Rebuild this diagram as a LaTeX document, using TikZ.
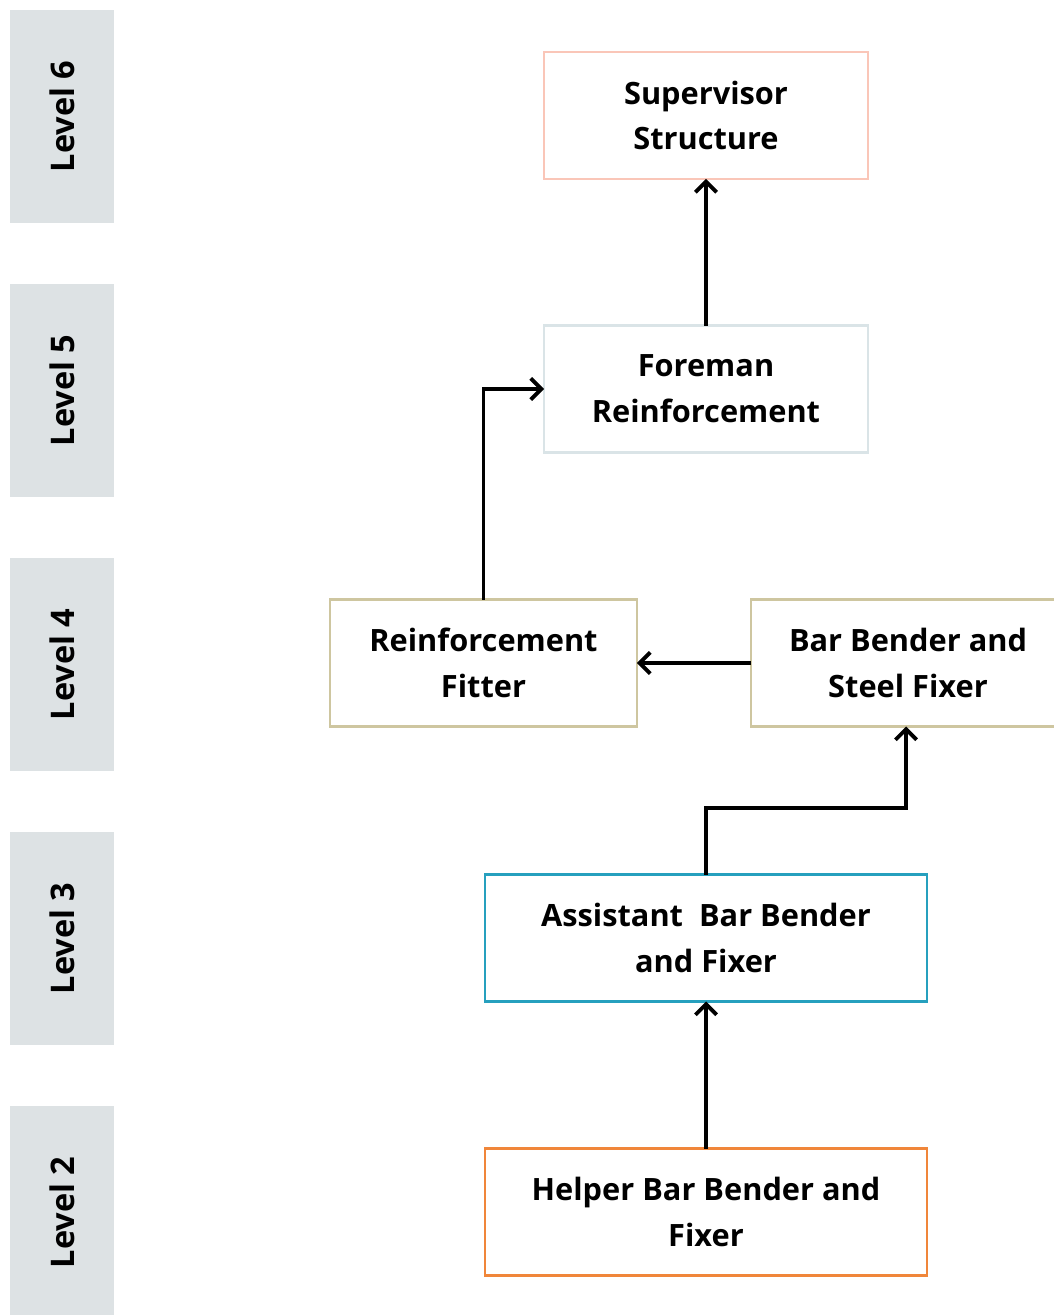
\documentclass[tikz,border=0pt]{standalone}
\usepackage{fontspec}
\setmainfont{Open Sans}
\usepackage{tikz}
\usetikzlibrary{
    positioning,
    arrows.meta
}
\definecolor{levelGray}{RGB}{221, 226, 228}
\definecolor{lineSalmon}{RGB}{250, 198, 184}
\definecolor{lineFrost}{RGB}{218, 228, 231}
\definecolor{lineKhaki}{RGB}{206, 198, 160}
\definecolor{lineTeal}{RGB}{38, 160, 190}
\definecolor{lineOrange}{RGB}{240, 134, 58}

\tikzset{
    rolebox/.style={draw, line width=1.3pt, fill=white, align=center,
        inner sep=0pt, outer sep=0pt, minimum height=2.54cm,
        font=\fontsize{17.5}{26}\selectfont\bfseries},
    levelbar/.style={fill=levelGray, draw=none, inner sep=0pt, outer sep=0pt,
        minimum width=2.08cm, minimum height=4.26cm},
    levellabel/.style={rotate=90, font=\fontsize{18.5}{22}\selectfont\bfseries},
    link/.style={line width=2.2pt, -{Straight Barb[length=6pt, width=12pt, line width=2.2pt]}}
}

\begin{document}
\begin{tikzpicture}[x=0.02cm, y=-0.02cm]
        % 画面範囲
        \clip (0,0) rectangle (1054,1315);
        \fill[white] (0,0) rectangle (1054,1315);

        % レベル表示
        \foreach \lv/\yc in {6/116.5, 5/390.5, 4/664.5, 3/938.5, 2/1212.5} {
            \node[levelbar] (bar\lv) at (62,\yc) {};
            \node[levellabel] (lab\lv) at (bar\lv.center) {Level \lv};
        }
        % 最下段は下端まで
        \fill[levelGray] (10,1300) rectangle (114,1315);

        % 役職ボックス
        \node[rolebox, draw=lineSalmon, minimum width=6.48cm] (super) at (706,115.5) {Supervisor\\Structure};
        \node[rolebox, draw=lineFrost, minimum width=6.48cm] (fore) at (706,389) {Foreman\\Reinforcement};
        \node[rolebox, draw=lineKhaki, minimum width=6.14cm] (fitter) at (483.5,663) {Reinforcement\\Fitter};
        \node[rolebox, draw=lineKhaki, minimum width=6.28cm] (bender) at (908,663) {Bar Bender and\\Steel Fixer};
        \node[rolebox, draw=lineTeal, minimum width=8.84cm] (assist) at (706,938) {Assistant\ \ Bar Bender\\and Fixer};
        \node[rolebox, draw=lineOrange, minimum width=8.84cm] (helper) at (706,1212) {Helper Bar Bender and\\Fixer};

        % 接続
        \coordinate (turn) at (706,808);
        \draw[link] (helper.north) -- (assist.south);
        \draw[link] (assist.north) -- (turn) -| ([xshift=-0.04cm]bender.south);
        \draw[link] (bender.west) -- (fitter.east);
        \draw[link] (fitter.north) |- (fore.west);
        \draw[link] (fore.north) -- (super.south);
    \end{tikzpicture}
\end{document}
